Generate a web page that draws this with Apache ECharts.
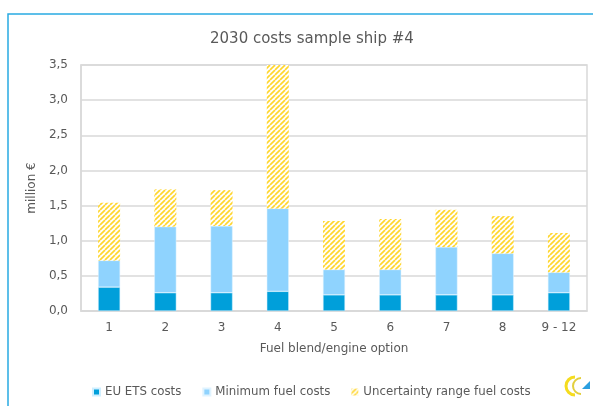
<!DOCTYPE html>
<html><head><meta charset="utf-8">
<script src="https://cdn.jsdelivr.net/npm/echarts@6/dist/echarts.min.js"></script>
<style>html,body{margin:0;padding:0;background:#fff;}#c{width:593px;height:406px;}</style>
</head><body><div id="c"></div>
<script>
const categories = ['1','2','3','4','5','6','7','8','9 - 12'];
const etsCosts = [0.34, 0.26, 0.26, 0.28, 0.23, 0.23, 0.23, 0.23, 0.26];
const minFuelCosts = [0.38, 0.94, 0.95, 1.18, 0.36, 0.36, 0.68, 0.59, 0.29];
const uncertaintyCosts = [0.82, 0.53, 0.51, 2.04, 0.69, 0.72, 0.53, 0.53, 0.56];
const yTicks = { min: 0, max: 3.5, interval: 0.5 };

function hatch() {
  const c = document.createElement('canvas');
  c.width = 5; c.height = 5;
  const g = c.getContext('2d');
  g.fillStyle = '#ffffff'; g.fillRect(0,0,5,5);
  g.strokeStyle = '#FFD62E'; g.lineWidth = 1.7;
  for (let o = -5; o <= 5; o += 5) {
    g.beginPath(); g.moveTo(o, 5); g.lineTo(o + 5, 0); g.stroke();
  }
  return c;
}
const pat = { image: hatch(), repeat: 'repeat' };
const font = 'DejaVu Sans';
const txt = '#595959';

const chart = echarts.init(document.getElementById('c'), null, { renderer: 'canvas' });
chart.setOption({
  animation: false,
  textStyle: { fontFamily: font },
  title: { text: '2030 costs sample ship #4', left: 205, top: 27,
    textStyle: { fontFamily: font, fontSize: 15, fontWeight: 'normal', color: txt } },
  grid: { left: 81, right: 6, top: 65, bottom: 95, show: true, borderColor: '#d9d9d9', borderWidth: 1.5 },
  legend: { top: 381, left: 87, itemWidth: 7, itemHeight: 7, itemGap: 21,
    textStyle: { fontFamily: font, fontSize: 11.8, color: txt },
    data: [{name:'EU ETS costs', icon:'rect'}, {name:'Minimum fuel costs', icon:'rect'}, {name:'Uncertainty range fuel costs', icon:'rect'}] },
  xAxis: { type: 'category', data: categories,
    name: 'Fuel blend/engine option', nameLocation: 'middle', nameGap: 32,
    nameTextStyle: { fontFamily: font, fontSize: 12, color: txt },
    axisLine: { lineStyle: { color: '#d9d9d9', width: 1.5 } }, axisTick: { show: false },
    axisLabel: { margin: 11, fontFamily: font, fontSize: 12, color: txt } },
  yAxis: { type: 'value', min: yTicks.min, max: yTicks.max, interval: yTicks.interval,
    name: 'million €', nameLocation: 'middle', nameGap: 37,
    nameTextStyle: { fontFamily: font, fontSize: 12, color: txt },
    axisLine: { show: true, lineStyle: { color: '#d9d9d9', width: 1.5 } },
    splitLine: { lineStyle: { color: '#d9d9d9', width: 1.5 } },
    axisLabel: { margin: 13, fontFamily: font, fontSize: 12, color: txt,
      formatter: v => v.toFixed(1).replace('.', ',') } },
  series: [
    { name: 'EU ETS costs', type: 'bar', stack: 's', data: etsCosts, barWidth: 22,
      itemStyle: { color: '#009FDA', borderColor: '#cfefff', borderWidth: 0.5 } },
    { name: 'Minimum fuel costs', type: 'bar', stack: 's', data: minFuelCosts, barWidth: 22,
      itemStyle: { color: '#8FD3FE', borderColor: '#dff3ff', borderWidth: 0.5 } },
    { name: 'Uncertainty range fuel costs', type: 'bar', stack: 's', data: uncertaintyCosts, barWidth: 22,
      itemStyle: { color: pat } }
  ],
  graphic: [
    { type: 'polyline', shape: { points: [[8, 420], [8, 14], [600, 14]] }, style: { stroke: '#29ABE2', lineWidth: 1.5, fill: null } },
    { type: 'arc', shape: { cx: 575, cy: 386, r: 9, startAngle: Math.PI*0.5, endAngle: Math.PI*1.5 }, style: { stroke: '#F5DC1E', lineWidth: 3, fill: null } },
    { type: 'arc', shape: { cx: 581, cy: 386, r: 8, startAngle: Math.PI*0.5, endAngle: Math.PI*1.5 }, style: { stroke: '#E3CF3E', lineWidth: 2, fill: null } },
    { type: 'polygon', shape: { points: [[582, 389], [590, 381], [590, 389]] }, style: { fill: '#2B9FE0' } }
  ]
});
</script></body></html>
